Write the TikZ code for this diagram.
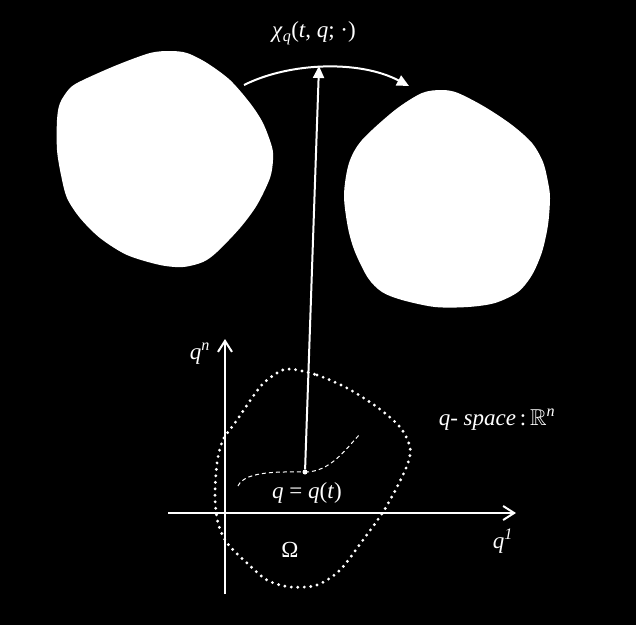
\documentclass[tikz,border=0pt]{standalone}
\usepackage{amssymb}
\usepackage{fontspec}
\setmainfont{Liberation Serif}
\usetikzlibrary{arrows.meta}
\tikzset{
  lbl/.style={text=white, inner sep=0pt, font=\fontsize{23}{27}\selectfont},
  blob/.style={fill=white, draw=none},
  axis/.style={draw=white, line width=2pt, -{Straight Barb[length=11pt,width=14pt,line width=2pt]}},
  maparrow/.style={draw=white, line width=2pt, -{Triangle[length=12pt,width=11pt]}},
  boundary/.style={draw=white, line width=3.2pt, line cap=round, dash pattern=on 0pt off 6.5pt},
  pathcurve/.style={draw=white, line width=1pt, dash pattern=on 4pt off 3pt}
}
\begin{document}
\begin{tikzpicture}[x=1pt,y=-1pt]
\fill[black] (0,0) rectangle (636,625);
\useasboundingbox (0,0) rectangle (636,625);
% left body
\fill[blob] plot[smooth cycle, tension=0.5] coordinates {
 (57,120) (60,103) (70,88) (83,80) (117,65) (150,53) (170,51) (187,53) (207,63) (230,80)
 (250,103) (263,123) (272,147) (273,160) (270,178) (257,205) (240,228) (217,252) (203,262)
 (183,267) (160,265) (127,255) (100,238) (80,218) (67,198) (61,175) (57,150)};
% right body
\fill[blob] plot[smooth cycle, tension=0.5] coordinates {
 (344,195) (349,163) (362,140) (395,110) (422,93) (442,90) (458,93) (485,107)
 (512,125) (532,143) (543,162) (548,182) (550,198) (548,225) (542,252) (532,275) (518,292)
 (495,303) (468,307) (435,307) (402,300) (382,292) (368,278) (355,252) (348,228)};
% coordinates
\coordinate (arcS) at (244,85);
\coordinate (arcE) at (409,86);
\coordinate (top) at (319,66);
\coordinate (xa0) at (168,513);
\coordinate (xa1) at (516,513);
\coordinate (ya0) at (225,594);
\coordinate (ya1) at (225,339);
% map arc
\draw[maparrow] (arcS) .. controls (290,62) and (360,60) .. (arcE);
% axes
\draw[axis] (xa0) -- (xa1);
\draw[axis] (ya0) -- (ya1);
% domain boundary
\draw[boundary] plot[smooth cycle, tension=0.5] coordinates {
 (290,369) (317,375) (347,388) (377,407) (400,427) (410,447) (408,463) (397,487)
 (383,512) (363,540) (340,570) (317,585) (290,587) (267,580) (247,563) (227,543)
 (218,523) (215,497) (217,463) (223,440) (237,420) (260,387) (277,373)};
% trajectory
\node[circle, fill=white, inner sep=0pt, minimum size=5pt] (p) at (305,472) {};
\draw[pathcurve] (238,486) .. controls (245,470) and (285,472) .. (p.center);
\draw[pathcurve] (p.center) .. controls (330,472) and (345,450) .. (360,434);
% vertical arrow
\draw[maparrow] (p) -- (top);
% labels
\node[lbl] (chi) at (314,33) {\textit{χ}\textsubscript{\textit{q}}(\textit{t}, \textit{q}; ·)};
\node[lbl] (qt) at (307,493) {\textit{q} = \textit{q}(\textit{t})};
\node[lbl] (om) at (290,550) {Ω};
\node[lbl] (qn) at (200,354) {\textit{q}\textsuperscript{\textit{n}}};
\node[lbl] (q1) at (503,541) {\textit{q}\textsuperscript{\textit{1}}};
\node[lbl] (qs) at (497,420) {\textit{q}- \textit{space}\,:\,$\mathbb{R}$\textsuperscript{\textit{n}}};
\end{tikzpicture}
\end{document}
